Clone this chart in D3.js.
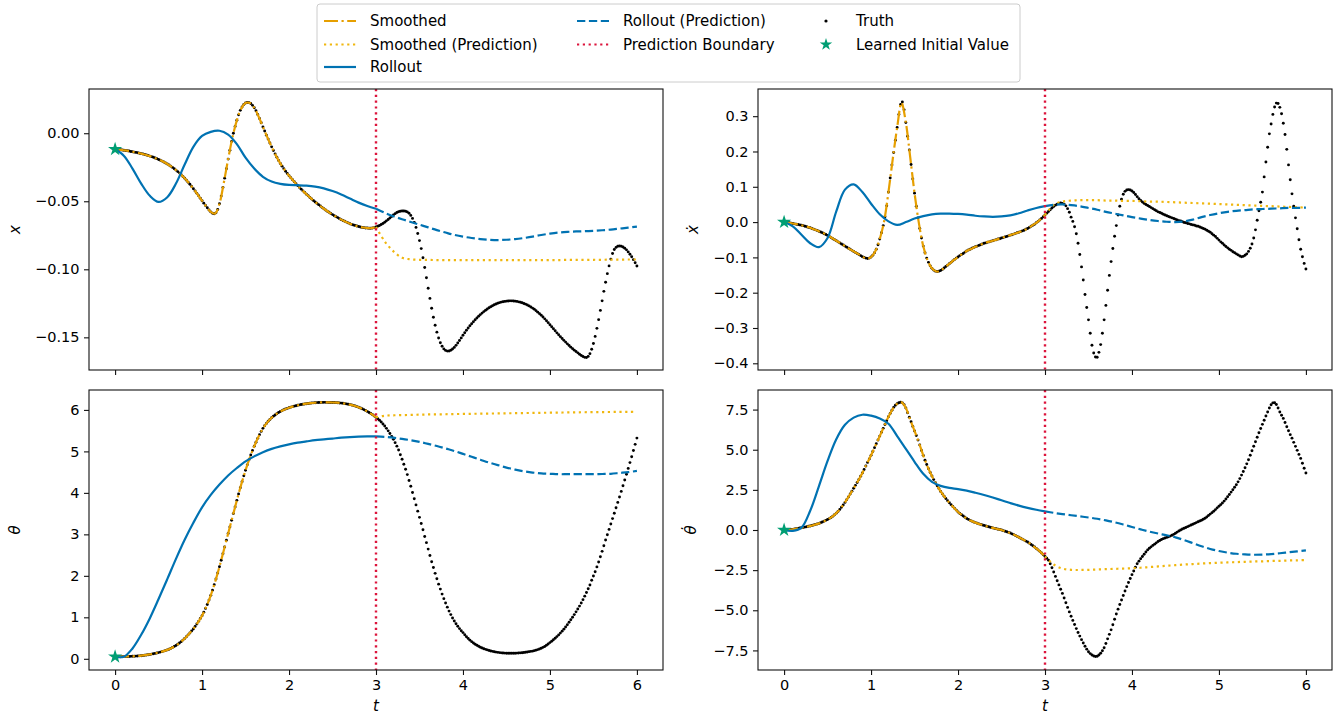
<!DOCTYPE html>
<html>
<head>
<meta charset="utf-8">
<script src="https://cdn.jsdelivr.net/npm/d3@7"></script>
<style>
  html, body { margin: 0; padding: 0; background: #ffffff; }
  svg { display: block; }
  text { font-family: "DejaVu Sans", sans-serif; fill: #000; }
</style>
</head>
<body>
<svg id="chart" width="1341" height="716"></svg>
<script>
// ---------------------------------------------------------------------------
// Sampling grids (seconds)
// ---------------------------------------------------------------------------
const tTruth  = d3.range(301).map(i => i / 50);      // 0.00 … 6.00, dt = 0.02
const tSmooth = d3.range(61).map(i => i / 20);       // 0.00 … 3.00, dt = 0.05
const tFit    = d3.range(31).map(i => i / 10);       // 0.0 … 3.0
const tPred   = d3.range(31).map(i => 3 + i / 10);   // 3.0 … 6.0

const boundaryT = 3;
const timeTicks = [0, 1, 2, 3, 4, 5, 6];

// ---------------------------------------------------------------------------
// Cart position x
// ---------------------------------------------------------------------------
const truthX = [
  -0.0118,-0.0119,-0.0120,-0.0121,-0.0123,-0.0125,-0.0127,-0.0129,-0.0131,-0.0134,
  -0.0136,-0.0139,-0.0141,-0.0144,-0.0147,-0.0150,-0.0153,-0.0156,-0.0160,-0.0164,
  -0.0168,-0.0172,-0.0177,-0.0182,-0.0187,-0.0193,-0.0199,-0.0205,-0.0212,-0.0219,
  -0.0226,-0.0234,-0.0242,-0.0251,-0.0261,-0.0271,-0.0282,-0.0293,-0.0305,-0.0318,
  -0.0331,-0.0345,-0.0360,-0.0375,-0.0391,-0.0408,-0.0425,-0.0442,-0.0460,-0.0478,
  -0.0496,-0.0514,-0.0531,-0.0548,-0.0564,-0.0578,-0.0588,-0.0592,-0.0585,-0.0560,
  -0.0518,-0.0462,-0.0398,-0.0330,-0.0261,-0.0190,-0.0125,-0.0060,0.0000,0.0050,
  0.0095,0.0135,0.0168,0.0193,0.0211,0.0222,0.0226,0.0225,0.0218,0.0205,
  0.0187,0.0165,0.0138,0.0108,0.0077,0.0046,0.0016,-0.0014,-0.0043,-0.0072,
  -0.0100,-0.0127,-0.0153,-0.0177,-0.0200,-0.0222,-0.0242,-0.0261,-0.0279,-0.0296,
  -0.0312,-0.0327,-0.0342,-0.0356,-0.0371,-0.0385,-0.0398,-0.0411,-0.0424,-0.0436,
  -0.0448,-0.0460,-0.0472,-0.0483,-0.0494,-0.0505,-0.0515,-0.0525,-0.0535,-0.0545,
  -0.0555,-0.0564,-0.0573,-0.0581,-0.0590,-0.0598,-0.0606,-0.0613,-0.0620,-0.0628,
  -0.0635,-0.0641,-0.0647,-0.0653,-0.0659,-0.0665,-0.0670,-0.0674,-0.0678,-0.0682,
  -0.0686,-0.0689,-0.0692,-0.0694,-0.0696,-0.0697,-0.0698,-0.0698,-0.0697,-0.0694,
  -0.0689,-0.0684,-0.0678,-0.0671,-0.0663,-0.0654,-0.0644,-0.0634,-0.0623,-0.0612,
  -0.0601,-0.0591,-0.0583,-0.0577,-0.0573,-0.0571,-0.0571,-0.0573,-0.0578,-0.0588,
  -0.0604,-0.0626,-0.0655,-0.0692,-0.0737,-0.0789,-0.0848,-0.0915,-0.0987,-0.1062,
  -0.1139,-0.1214,-0.1286,-0.1352,-0.1411,-0.1462,-0.1505,-0.1540,-0.1566,-0.1585,
  -0.1596,-0.1601,-0.1600,-0.1595,-0.1586,-0.1574,-0.1559,-0.1542,-0.1523,-0.1504,
  -0.1485,-0.1466,-0.1448,-0.1431,-0.1415,-0.1400,-0.1385,-0.1371,-0.1358,-0.1345,
  -0.1333,-0.1322,-0.1311,-0.1301,-0.1292,-0.1283,-0.1275,-0.1268,-0.1261,-0.1255,
  -0.1250,-0.1245,-0.1241,-0.1238,-0.1236,-0.1234,-0.1233,-0.1232,-0.1232,-0.1233,
  -0.1234,-0.1236,-0.1239,-0.1242,-0.1246,-0.1251,-0.1256,-0.1262,-0.1269,-0.1277,
  -0.1285,-0.1294,-0.1304,-0.1315,-0.1326,-0.1338,-0.1351,-0.1364,-0.1378,-0.1392,
  -0.1407,-0.1422,-0.1437,-0.1452,-0.1467,-0.1481,-0.1495,-0.1509,-0.1522,-0.1535,
  -0.1548,-0.1560,-0.1572,-0.1583,-0.1594,-0.1604,-0.1614,-0.1624,-0.1633,-0.1641,
  -0.1647,-0.1648,-0.1640,-0.1620,-0.1588,-0.1545,-0.1493,-0.1434,-0.1370,-0.1302,
  -0.1232,-0.1162,-0.1095,-0.1032,-0.0975,-0.0925,-0.0884,-0.0855,-0.0839,-0.0831,
  -0.0829,-0.0831,-0.0836,-0.0845,-0.0857,-0.0872,-0.0889,-0.0908,-0.0929,-0.0952,
  -0.0976
];
const smoothedX = [
  -0.0118,-0.0120,-0.0125,-0.0130,-0.0136,-0.0142,-0.0150,-0.0158,-0.0168,-0.0180,
  -0.0193,-0.0208,-0.0226,-0.0246,-0.0271,-0.0299,-0.0331,-0.0367,-0.0408,-0.0451,
  -0.0496,-0.0540,-0.0578,-0.0590,-0.0518,-0.0364,-0.0190,-0.0030,0.0095,0.0181,
  0.0222,0.0222,0.0187,0.0123,0.0046,-0.0029,-0.0100,-0.0165,-0.0222,-0.0270,
  -0.0312,-0.0349,-0.0385,-0.0418,-0.0448,-0.0477,-0.0505,-0.0530,-0.0555,-0.0577,
  -0.0598,-0.0617,-0.0635,-0.0650,-0.0665,-0.0676,-0.0686,-0.0693,-0.0697,-0.0698,
  -0.0689
];
const smoothedPredX = [
  -0.0689,-0.0795,-0.0868,-0.0915,-0.0927,-0.0930,-0.0931,-0.0932,-0.0933,-0.0933,
  -0.0933,-0.0933,-0.0933,-0.0933,-0.0933,-0.0933,-0.0933,-0.0933,-0.0932,-0.0932,
  -0.0932,-0.0932,-0.0931,-0.0931,-0.0931,-0.0930,-0.0930,-0.0929,-0.0929,-0.0928,
  -0.0928
];
const rolloutX = [
  -0.0118,-0.0165,-0.0260,-0.0370,-0.0460,-0.0505,-0.0470,-0.0370,-0.0230,-0.0100,
  -0.0020,0.0010,0.0018,-0.0010,-0.0080,-0.0180,-0.0260,-0.0320,-0.0355,-0.0372,
  -0.0380,-0.0382,-0.0385,-0.0392,-0.0405,-0.0425,-0.0450,-0.0480,-0.0510,-0.0535,
  -0.0555
];
const rolloutPredX = [
  -0.0555,-0.0585,-0.0610,-0.0632,-0.0652,-0.0672,-0.0692,-0.0712,-0.0730,-0.0747,
  -0.0760,-0.0770,-0.0778,-0.0783,-0.0785,-0.0783,-0.0778,-0.0770,-0.0760,-0.0748,
  -0.0738,-0.0730,-0.0725,-0.0722,-0.0720,-0.0717,-0.0713,-0.0708,-0.0701,-0.0694,
  -0.0686
];

// ---------------------------------------------------------------------------
// Cart velocity x-dot
// ---------------------------------------------------------------------------
const truthXdot = [
  0.000,-0.001,-0.001,-0.002,-0.003,-0.004,-0.005,-0.006,-0.007,-0.008,
  -0.009,-0.010,-0.012,-0.013,-0.015,-0.016,-0.018,-0.020,-0.022,-0.024,
  -0.026,-0.028,-0.030,-0.033,-0.035,-0.038,-0.041,-0.044,-0.047,-0.050,
  -0.053,-0.056,-0.059,-0.062,-0.065,-0.068,-0.071,-0.074,-0.077,-0.080,
  -0.083,-0.086,-0.089,-0.092,-0.095,-0.098,-0.100,-0.102,-0.103,-0.102,
  -0.099,-0.094,-0.087,-0.077,-0.064,-0.048,-0.030,-0.010,0.015,0.046,
  0.085,0.125,0.162,0.197,0.232,0.268,0.305,0.333,0.340,0.318,
  0.282,0.243,0.204,0.163,0.122,0.082,0.045,0.012,-0.018,-0.045,
  -0.068,-0.087,-0.102,-0.114,-0.124,-0.131,-0.136,-0.139,-0.140,-0.139,
  -0.137,-0.134,-0.130,-0.126,-0.122,-0.118,-0.114,-0.110,-0.106,-0.102,
  -0.099,-0.095,-0.092,-0.089,-0.085,-0.082,-0.079,-0.077,-0.074,-0.072,
  -0.070,-0.068,-0.066,-0.064,-0.062,-0.060,-0.059,-0.057,-0.056,-0.054,
  -0.053,-0.051,-0.050,-0.048,-0.047,-0.045,-0.044,-0.042,-0.041,-0.039,
  -0.037,-0.036,-0.034,-0.032,-0.030,-0.029,-0.027,-0.025,-0.023,-0.020,
  -0.018,-0.015,-0.012,-0.009,-0.006,-0.002,0.002,0.006,0.010,0.015,
  0.020,0.025,0.030,0.035,0.040,0.044,0.048,0.051,0.053,0.054,
  0.053,0.051,0.046,0.038,0.028,0.014,0.002,-0.013,-0.033,-0.060,
  -0.092,-0.127,-0.164,-0.205,-0.242,-0.277,-0.315,-0.349,-0.371,-0.382,
  -0.383,-0.369,-0.347,-0.315,-0.277,-0.236,-0.193,-0.151,-0.112,-0.075,
  -0.040,-0.010,0.020,0.045,0.065,0.079,0.087,0.091,0.092,0.091,
  0.088,0.084,0.078,0.072,0.066,0.061,0.057,0.053,0.050,0.047,
  0.044,0.041,0.038,0.035,0.032,0.029,0.027,0.025,0.022,0.020,
  0.018,0.016,0.014,0.012,0.010,0.008,0.006,0.004,0.003,0.001,
  -0.001,-0.002,-0.004,-0.005,-0.007,-0.008,-0.009,-0.011,-0.012,-0.014,
  -0.016,-0.018,-0.020,-0.023,-0.026,-0.029,-0.033,-0.037,-0.041,-0.046,
  -0.051,-0.056,-0.060,-0.065,-0.069,-0.073,-0.077,-0.080,-0.084,-0.087,
  -0.090,-0.093,-0.096,-0.098,-0.097,-0.094,-0.090,-0.083,-0.074,-0.062,
  -0.045,-0.022,0.005,0.032,0.056,0.085,0.128,0.170,0.212,0.250,
  0.278,0.305,0.326,0.337,0.336,0.325,0.307,0.280,0.248,0.206,
  0.162,0.120,0.080,0.045,0.012,-0.019,-0.050,-0.077,-0.098,-0.117,
  -0.133
];
const smoothedXdot = [
  0.000,-0.002,-0.004,-0.006,-0.009,-0.012,-0.016,-0.021,-0.026,-0.031,
  -0.038,-0.045,-0.053,-0.060,-0.068,-0.076,-0.083,-0.090,-0.098,-0.103,
  -0.099,-0.082,-0.048,0.002,0.085,0.180,0.268,0.338,0.282,0.184,
  0.082,-0.003,-0.068,-0.108,-0.131,-0.140,-0.137,-0.128,-0.118,-0.108,
  -0.099,-0.090,-0.082,-0.076,-0.070,-0.065,-0.060,-0.056,-0.053,-0.049,
  -0.045,-0.041,-0.037,-0.033,-0.029,-0.024,-0.018,-0.010,-0.002,0.008,
  0.020
];
const smoothedPredXdot = [
  0.020,0.048,0.058,0.061,0.062,0.062,0.062,0.061,0.061,0.060,
  0.060,0.059,0.058,0.058,0.057,0.056,0.055,0.054,0.053,0.052,
  0.051,0.050,0.049,0.048,0.047,0.046,0.045,0.044,0.043,0.042,
  0.041
];
const rolloutXdot = [
  0.000,-0.012,-0.036,-0.060,-0.071,-0.045,0.030,0.092,0.107,0.085,
  0.052,0.022,0.002,-0.008,0.000,0.010,0.017,0.022,0.024,0.024,
  0.023,0.021,0.018,0.016,0.015,0.016,0.019,0.025,0.033,0.040,
  0.045
];
const rolloutPredXdot = [
  0.045,0.049,0.050,0.048,0.045,0.040,0.035,0.029,0.024,0.019,
  0.014,0.010,0.006,0.003,0.001,0.000,0.002,0.007,0.014,0.020,
  0.025,0.029,0.032,0.034,0.036,0.037,0.038,0.039,0.040,0.040,
  0.041
];

// ---------------------------------------------------------------------------
// Pole angle theta
// ---------------------------------------------------------------------------
const truthTheta = [
  0.050,0.050,0.051,0.051,0.052,0.053,0.054,0.056,0.057,0.059,
  0.060,0.063,0.065,0.068,0.071,0.075,0.080,0.086,0.092,0.098,
  0.105,0.113,0.121,0.130,0.140,0.150,0.161,0.173,0.186,0.200,
  0.215,0.232,0.251,0.272,0.295,0.320,0.349,0.380,0.414,0.451,
  0.490,0.532,0.577,0.622,0.670,0.720,0.777,0.838,0.903,0.970,
  1.040,1.125,1.215,1.310,1.415,1.530,1.655,1.785,1.925,2.070,
  2.220,2.375,2.535,2.695,2.857,3.020,3.180,3.340,3.500,3.660,
  3.820,3.975,4.125,4.270,4.410,4.545,4.675,4.797,4.912,5.022,
  5.125,5.222,5.315,5.402,5.482,5.555,5.620,5.675,5.725,5.770,
  5.810,5.846,5.879,5.909,5.936,5.961,5.983,6.003,6.021,6.037,
  6.052,6.066,6.079,6.091,6.102,6.112,6.121,6.129,6.137,6.144,
  6.150,6.156,6.161,6.166,6.170,6.173,6.176,6.178,6.180,6.181,
  6.182,6.182,6.181,6.180,6.180,6.179,6.177,6.175,6.172,6.168,
  6.164,6.159,6.152,6.145,6.137,6.128,6.118,6.106,6.093,6.079,
  6.064,6.047,6.028,6.008,5.987,5.964,5.939,5.912,5.884,5.854,
  5.821,5.786,5.749,5.708,5.662,5.611,5.555,5.495,5.431,5.363,
  5.290,5.211,5.126,5.034,4.920,4.810,4.690,4.570,4.440,4.300,
  4.160,4.010,3.860,3.710,3.560,3.410,3.260,3.110,2.950,2.800,
  2.645,2.490,2.340,2.200,2.060,1.930,1.800,1.680,1.560,1.450,
  1.345,1.245,1.150,1.065,0.985,0.912,0.845,0.784,0.728,0.678,
  0.632,0.578,0.531,0.489,0.450,0.414,0.382,0.352,0.325,0.301,
  0.280,0.261,0.243,0.228,0.214,0.201,0.189,0.179,0.170,0.162,
  0.155,0.149,0.144,0.140,0.137,0.135,0.134,0.133,0.133,0.134,
  0.135,0.137,0.140,0.143,0.147,0.152,0.158,0.165,0.172,0.180,
  0.185,0.196,0.208,0.222,0.238,0.256,0.276,0.298,0.326,0.356,
  0.390,0.424,0.459,0.496,0.535,0.576,0.620,0.666,0.715,0.767,
  0.822,0.880,0.940,1.002,1.066,1.132,1.200,1.270,1.346,1.426,
  1.510,1.597,1.687,1.780,1.895,1.995,2.100,2.215,2.335,2.460,
  2.590,2.725,2.865,2.990,3.120,3.250,3.380,3.510,3.640,3.770,
  3.900,4.035,4.170,4.310,4.450,4.590,4.730,4.870,5.020,5.170,
  5.320
];
const smoothedTheta = [
  0.050,0.051,0.053,0.057,0.060,0.066,0.075,0.089,0.105,0.125,
  0.150,0.179,0.215,0.261,0.320,0.397,0.490,0.600,0.720,0.870,
  1.040,1.262,1.530,1.855,2.220,2.615,3.020,3.420,3.820,4.198,
  4.545,4.855,5.125,5.360,5.555,5.700,5.810,5.894,5.961,6.012,
  6.052,6.085,6.112,6.133,6.150,6.164,6.173,6.179,6.182,6.181,
  6.179,6.174,6.164,6.149,6.128,6.100,6.064,6.018,5.964,5.898,
  5.821
];
const smoothedPredTheta = [
  5.821,5.860,5.870,5.875,5.880,5.885,5.890,5.893,5.896,5.900,
  5.903,5.906,5.909,5.912,5.915,5.918,5.921,5.924,5.927,5.930,
  5.933,5.936,5.939,5.942,5.944,5.946,5.948,5.950,5.952,5.954,
  5.956
];
const rolloutTheta = [
  0.05,0.05,0.25,0.58,0.98,1.44,1.92,2.41,2.87,3.28,
  3.65,3.95,4.20,4.42,4.60,4.76,4.88,4.98,5.06,5.12,
  5.17,5.21,5.24,5.27,5.29,5.31,5.33,5.345,5.355,5.36,
  5.36
];
const rolloutPredTheta = [
  5.36,5.35,5.33,5.30,5.27,5.23,5.18,5.13,5.07,5.01,
  4.94,4.87,4.80,4.73,4.67,4.61,4.56,4.52,4.49,4.47,
  4.46,4.45,4.45,4.45,4.45,4.45,4.455,4.46,4.48,4.50,
  4.53
];

// ---------------------------------------------------------------------------
// Pole angular velocity theta-dot
// ---------------------------------------------------------------------------
const truthThetaDot = [
  0.00,0.00,0.01,0.02,0.03,0.04,0.06,0.08,0.10,0.12,
  0.14,0.16,0.18,0.20,0.23,0.25,0.28,0.31,0.34,0.37,
  0.40,0.45,0.50,0.55,0.60,0.65,0.71,0.78,0.86,0.95,
  1.05,1.16,1.28,1.42,1.56,1.72,1.89,2.06,2.24,2.42,
  2.60,2.78,2.96,3.15,3.35,3.55,3.77,3.99,4.21,4.43,
  4.65,4.89,5.13,5.37,5.61,5.85,6.09,6.33,6.57,6.81,
  7.05,7.26,7.46,7.64,7.77,7.86,7.93,7.96,7.92,7.80,
  7.60,7.30,7.02,6.74,6.45,6.17,5.89,5.60,5.29,4.95,
  4.65,4.35,4.08,3.82,3.58,3.36,3.14,2.95,2.76,2.58,
  2.40,2.25,2.10,1.96,1.82,1.70,1.58,1.46,1.35,1.24,
  1.12,1.03,0.95,0.87,0.79,0.72,0.66,0.60,0.55,0.50,
  0.46,0.42,0.38,0.35,0.31,0.28,0.25,0.22,0.19,0.16,
  0.13,0.10,0.08,0.05,0.03,0.00,-0.04,-0.08,-0.11,-0.15,
  -0.19,-0.24,-0.29,-0.34,-0.40,-0.45,-0.51,-0.57,-0.63,-0.69,
  -0.75,-0.82,-0.90,-0.98,-1.06,-1.15,-1.24,-1.33,-1.43,-1.54,
  -1.65,-1.76,-1.88,-2.10,-2.35,-2.62,-2.89,-3.16,-3.42,-3.69,
  -3.95,-4.24,-4.53,-4.82,-5.10,-5.37,-5.63,-5.89,-6.14,-6.38,
  -6.61,-6.83,-7.04,-7.24,-7.42,-7.58,-7.70,-7.79,-7.85,-7.88,
  -7.86,-7.79,-7.68,-7.52,-7.33,-7.07,-6.78,-6.50,-6.22,-5.90,
  -5.56,-5.23,-4.93,-4.64,-4.36,-4.08,-3.80,-3.53,-3.27,-3.02,
  -2.78,-2.55,-2.32,-2.10,-1.94,-1.79,-1.65,-1.51,-1.37,-1.24,
  -1.14,-1.05,-0.96,-0.88,-0.80,-0.72,-0.65,-0.59,-0.54,-0.50,
  -0.46,-0.42,-0.38,-0.33,-0.27,-0.20,-0.13,-0.06,0.00,0.06,
  0.11,0.16,0.21,0.26,0.31,0.36,0.41,0.46,0.51,0.56,
  0.61,0.67,0.73,0.81,0.90,0.99,1.08,1.17,1.27,1.38,
  1.48,1.58,1.68,1.80,1.93,2.07,2.21,2.36,2.51,2.66,
  2.82,3.00,3.20,3.42,3.64,3.88,4.12,4.38,4.66,4.94,
  5.22,5.50,5.78,6.06,6.32,6.58,6.84,7.10,7.35,7.60,
  7.80,7.92,7.93,7.82,7.60,7.35,7.15,6.95,6.70,6.43,
  6.18,5.94,5.72,5.46,5.21,4.96,4.71,4.46,4.16,3.85,
  3.55
];
const smoothedThetaDot = [
  0.00,0.015,0.04,0.09,0.14,0.195,0.25,0.325,0.40,0.525,
  0.65,0.82,1.05,1.35,1.72,2.15,2.60,3.05,3.55,4.10,
  4.65,5.25,5.85,6.45,7.05,7.55,7.86,7.95,7.60,6.88,
  6.17,5.45,4.65,3.95,3.36,2.85,2.40,2.03,1.70,1.40,
  1.12,0.91,0.72,0.57,0.46,0.36,0.28,0.20,0.13,0.06,
  0.00,-0.10,-0.19,-0.31,-0.45,-0.60,-0.75,-0.94,-1.15,-1.38,
  -1.65
];
const smoothedPredThetaDot = [
  -1.65,-2.15,-2.40,-2.48,-2.49,-2.48,-2.46,-2.44,-2.42,-2.40,
  -2.38,-2.35,-2.31,-2.27,-2.23,-2.19,-2.15,-2.12,-2.09,-2.06,
  -2.04,-2.02,-2.00,-1.98,-1.96,-1.95,-1.93,-1.92,-1.90,-1.89,
  -1.87
];
const rolloutThetaDot = [
  0.00,-0.05,0.15,1.20,2.72,4.30,5.65,6.55,7.00,7.18,
  7.12,6.95,6.62,5.85,5.05,4.25,3.50,3.00,2.75,2.62,
  2.55,2.45,2.32,2.18,2.02,1.85,1.68,1.52,1.38,1.26,
  1.16
];
const rolloutPredThetaDot = [
  1.16,1.07,0.99,0.92,0.85,0.78,0.70,0.60,0.48,0.34,
  0.19,0.04,-0.10,-0.22,-0.33,-0.46,-0.63,-0.82,-1.01,-1.18,
  -1.31,-1.41,-1.48,-1.52,-1.54,-1.53,-1.50,-1.45,-1.39,-1.33,
  -1.27
];

// Learned initial state [x, x-dot, theta, theta-dot] at t = 0
const initialValues = [-0.0118, 0.000, 0.050, 0.000];

// Axis tick values
const ticksX        = [0.00, -0.05, -0.10, -0.15];
const ticksXdot     = [0.3, 0.2, 0.1, 0.0, -0.1, -0.2, -0.3, -0.4];
const ticksTheta    = [0, 1, 2, 3, 4, 5, 6];
const ticksThetaDot = [7.5, 5.0, 2.5, 0.0, -2.5, -5.0, -7.5];

// Legend entries
const legendLabels = [
  "Smoothed", "Smoothed (Prediction)", "Rollout",
  "Rollout (Prediction)", "Prediction Boundary",
  "Truth", "Learned Initial Value"
];

// ---------------------------------------------------------------------------
// Styles
// ---------------------------------------------------------------------------
const C = {
  smooth: "#E69F00",
  smoothPred: "#F0B70F",
  rollout: "#0072B2",
  boundary: "#DC143C",
  truth: "#000000",
  init: "#009E73"
};
const LW = 2.2;
const DASH = {
  smooth: "14 3.5 2.2 3.5",
  smoothPred: "2.2 3.6",
  rolloutPred: "8.3 3.6",
  boundary: "2.2 3.6"
};

// ---------------------------------------------------------------------------
// Panel layout
// ---------------------------------------------------------------------------
const panels = [
  { box: { x: 89,  y: 89,  w: 574, h: 281 }, yDomain: [-0.174, 0.0325], yTicks: ticksX,
    fmt: d3.format(".2f"), label: "x", xLabels: false,
    truth: truthX, smooth: smoothedX, smoothPred: smoothedPredX,
    roll: rolloutX, rollPred: rolloutPredX, init: initialValues[0], labelX: 15 },
  { box: { x: 758, y: 89,  w: 574, h: 281 }, yDomain: [-0.419, 0.377], yTicks: ticksXdot,
    fmt: d3.format(".1f"), label: "\u1E8B", xLabels: false,
    truth: truthXdot, smooth: smoothedXdot, smoothPred: smoothedPredXdot,
    roll: rolloutXdot, rollPred: rolloutPredXdot, init: initialValues[1], labelX: 693 },
  { box: { x: 89,  y: 390, w: 574, h: 280 }, yDomain: [-0.27, 6.48], yTicks: ticksTheta,
    fmt: d3.format("d"), label: "\u03B8", xLabels: true,
    truth: truthTheta, smooth: smoothedTheta, smoothPred: smoothedPredTheta,
    roll: rolloutTheta, rollPred: rolloutPredTheta, init: initialValues[2], labelX: 15 },
  { box: { x: 758, y: 390, w: 574, h: 280 }, yDomain: [-8.72, 8.72], yTicks: ticksThetaDot,
    fmt: d3.format(".1f"), label: "\u03B8\u0307", xLabels: true,
    truth: truthThetaDot, smooth: smoothedThetaDot, smoothPred: smoothedPredThetaDot,
    roll: rolloutThetaDot, rollPred: rolloutPredThetaDot, init: initialValues[3], labelX: 691 }
];

const svg = d3.select("#chart");
svg.append("rect").attr("width", 1341).attr("height", 716).attr("fill", "#fff");

const curve = d3.curveCatmullRom.alpha(0.5);

panels.forEach(p => {
  const { x: bx, y: by, w, h } = p.box;
  const xs = d3.scaleLinear().domain([-0.3, 6.3]).range([bx, bx + w]);
  const ys = d3.scaleLinear().domain(p.yDomain).range([by + h, by]);
  const g = svg.append("g");

  const line = (tArr) => d3.line().x((d, i) => xs(tArr[i])).y(d => ys(d)).curve(curve);

  // Ground-truth samples (underneath the estimates)
  g.append("g").selectAll("circle").data(p.truth).join("circle")
    .attr("cx", (d, i) => xs(tTruth[i])).attr("cy", d => ys(d))
    .attr("r", 1.45).attr("fill", C.truth);

  // Smoothed estimate over the observed window
  g.append("path").datum(p.smooth).attr("d", line(tSmooth))
    .attr("fill", "none").attr("stroke", C.smooth).attr("stroke-width", LW)
    .attr("stroke-dasharray", DASH.smooth);
  // Smoothed estimate extrapolated past the boundary
  g.append("path").datum(p.smoothPred).attr("d", line(tPred))
    .attr("fill", "none").attr("stroke", C.smoothPred).attr("stroke-width", LW)
    .attr("stroke-dasharray", DASH.smoothPred);
  // Rollout from the learned initial value
  g.append("path").datum(p.roll).attr("d", line(tFit))
    .attr("fill", "none").attr("stroke", C.rollout).attr("stroke-width", LW);
  g.append("path").datum(p.rollPred).attr("d", line(tPred))
    .attr("fill", "none").attr("stroke", C.rollout).attr("stroke-width", LW)
    .attr("stroke-dasharray", DASH.rolloutPred);

  // Prediction boundary
  g.append("line")
    .attr("x1", xs(boundaryT)).attr("x2", xs(boundaryT))
    .attr("y1", by).attr("y2", by + h)
    .attr("stroke", C.boundary).attr("stroke-width", 2.4)
    .attr("stroke-dasharray", DASH.boundary);

  // Learned initial value
  g.append("path")
    .attr("d", d3.symbol(d3.symbolStar, 62)())
    .attr("transform", `translate(${xs(0)},${ys(p.init)})`)
    .attr("fill", C.init);

  // Frame
  g.append("rect").attr("x", bx).attr("y", by).attr("width", w).attr("height", h)
    .attr("fill", "none").attr("stroke", "#111").attr("stroke-width", 1.1);

  // Axes
  const yAxis = d3.axisLeft(ys).tickValues(p.yTicks).tickFormat(p.fmt)
    .tickSize(5).tickPadding(4.5);
  const ya = g.append("g").attr("transform", `translate(${bx},0)`).call(yAxis);
  const xAxis = d3.axisBottom(xs).tickValues(timeTicks)
    .tickFormat(p.xLabels ? d3.format("d") : "").tickSize(5).tickPadding(5);
  const xa = g.append("g").attr("transform", `translate(0,${by + h})`).call(xAxis);
  [ya, xa].forEach(a => {
    a.select(".domain").remove();
    a.selectAll(".tick line").attr("stroke", "#111").attr("stroke-width", 1.1);
    a.selectAll(".tick text").attr("font-family", "DejaVu Sans")
      .attr("font-size", 14.5).attr("fill", "#111");
  });

  // Y label
  svg.append("text")
    .attr("transform", `translate(${p.labelX},${by + h / 2}) rotate(-90)`)
    .attr("text-anchor", "middle").attr("dominant-baseline", "central")
    .attr("font-size", 15).attr("font-style", "italic")
    .text(p.label);

  if (p.xLabels) {
    svg.append("text")
      .attr("x", bx + w / 2).attr("y", 711)
      .attr("text-anchor", "middle").attr("font-size", 15).attr("font-style", "italic")
      .text("t");
  }
});

// ---------------------------------------------------------------------------
// Legend (three columns, filled column by column)
// ---------------------------------------------------------------------------
const legend = svg.append("g");
legend.append("rect")
  .attr("x", 317).attr("y", 4).attr("width", 703).attr("height", 78)
  .attr("rx", 3).attr("fill", "#fff").attr("fill-opacity", 0.85)
  .attr("stroke", "#cccccc").attr("stroke-width", 1);

const colX = [324, 577, 810];
const rowY = [21, 44.5, 67];
const handleW = 32;
const entries = [
  { col: 0, row: 0, type: "line", color: C.smooth, dash: DASH.smooth },
  { col: 0, row: 1, type: "line", color: C.smoothPred, dash: DASH.smoothPred },
  { col: 0, row: 2, type: "line", color: C.rollout, dash: null },
  { col: 1, row: 0, type: "line", color: C.rollout, dash: DASH.rolloutPred },
  { col: 1, row: 1, type: "line", color: C.boundary, dash: DASH.boundary },
  { col: 2, row: 0, type: "dot" },
  { col: 2, row: 1, type: "star" }
];
entries.forEach((e, i) => {
  const x0 = colX[e.col], y0 = rowY[e.row];
  if (e.type === "line") {
    legend.append("line").attr("x1", x0).attr("x2", x0 + handleW)
      .attr("y1", y0).attr("y2", y0)
      .attr("stroke", e.color).attr("stroke-width", LW)
      .attr("stroke-dasharray", e.dash);
  } else if (e.type === "dot") {
    legend.append("circle").attr("cx", x0 + handleW / 2).attr("cy", y0)
      .attr("r", 1.6).attr("fill", C.truth);
  } else {
    legend.append("path").attr("d", d3.symbol(d3.symbolStar, 48)())
      .attr("transform", `translate(${x0 + handleW / 2},${y0})`)
      .attr("fill", C.init);
  }
  legend.append("text").attr("x", x0 + handleW + 14).attr("y", y0)
    .attr("dominant-baseline", "central").attr("font-size", 15)
    .text(legendLabels[i]);
});
</script>
</body>
</html>
